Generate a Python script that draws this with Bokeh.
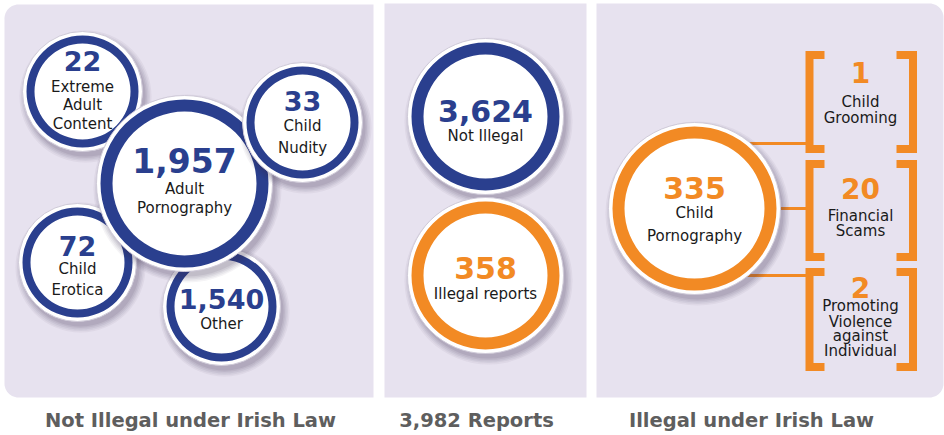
import numpy as np
from bokeh.plotting import figure
from bokeh.models import Range1d
from bokeh.core.properties import value
from bokeh.embed import file_html
from bokeh.resources import INLINE

# ---------------- data ----------------
not_illegal_values = [22, 72, 1540, 1957, 33]
not_illegal_labels = [["Extreme", "Adult", "Content"], ["Child", "Erotica"], ["Other"],
                      ["Adult", "Pornography"], ["Child", "Nudity"]]
summary_values = [3624, 358]
summary_labels = [["Not Illegal"], ["Illegal reports"]]
main_illegal_value = 335
main_illegal_label = ["Child", "Pornography"]
sub_illegal_values = [1, 20, 2]
sub_illegal_labels = [["Child", "Grooming"], ["Financial", "Scams"],
                      ["Promoting", "Violence", "against", "Individual"]]
panel_titles = ["Not Illegal under Irish Law", "3,982 Reports", "Illegal under Irish Law"]

# ---------------- layout (reference pixel coordinates) ----------------
BLUE = "#2A3F8E"
ORANGE = "#F28A24"
PANEL = "#E7E2EF"
TEXT = "#1A1A1A"
FONT = "DejaVu Sans"

left_layout = [
    # cx, cy, R, ring, num_y, num_size, label_ys
    (82, 91, 60, 8, 60, 27, [86, 104, 123]),
    (77, 262, 59, 8, 245, 27, [268, 289]),
    (221, 306, 59, 8, 298, 27, [323]),
    (184, 183, 88, 12, 160, 33, [188, 207]),
    (302, 122, 60, 8, 100, 27, [125, 147]),
]
mid_layout = [
    (485, 116, 78, 12, 110, 30, [135]),
    (485, 275, 78, 12, 267, 30, [293]),
]
main_layout = (694, 208, 86, 12, 187, 30, [212, 235])
box_layout = [
    (51, 152, 143, 72, 28, [101, 117]),
    (160, 260, 208, 188, 28, [215, 230]),
    (268, 370, 275, 287, 28, [305, 321, 335, 350]),
]

p = figure(width=944, height=435, x_range=Range1d(0, 944), y_range=Range1d(435, 0),
           output_backend="svg", toolbar_location=None, min_border=0,
           x_axis_location=None, y_axis_location=None)
p.grid.visible = False
p.outline_line_color = None
p.background_fill_color = "white"
p.border_fill_color = "white"


def rounded_rect(x0, y0, x1, y1, r_tl, r_tr, r_br, r_bl, n=14):
    xs, ys = [], []
    for (cx, cy, r, a0) in [(x0 + r_tl, y0 + r_tl, r_tl, 180), (x1 - r_tr, y0 + r_tr, r_tr, 270),
                            (x1 - r_br, y1 - r_br, r_br, 0), (x0 + r_bl, y1 - r_bl, r_bl, 90)]:
        t = np.radians(np.linspace(a0, a0 + 90, n))
        xs.extend(cx + r * np.cos(t))
        ys.extend(cy + r * np.sin(t))
    return xs, ys


panels = [rounded_rect(4, 4, 373, 397, 14, 0, 0, 14),
          rounded_rect(384, 3, 586, 397, 0, 0, 0, 0),
          rounded_rect(596, 3, 943, 397, 0, 14, 14, 0)]
p.patches([q[0] for q in panels], [q[1] for q in panels], fill_color=PANEL, line_color=None)


def txt(x, y, s, size, color, bold=False):
    p.text(x=[x], y=[y], text=[s], text_font=value(FONT), text_font_size=f"{size}px",
           text_font_style="bold" if bold else "normal", text_color=color,
           text_align="center", text_baseline="middle")


def badge(lay, color, val, lines):
    cx, cy, R, ring, ny, nsize, lys = lay
    for k, a in zip([6, 4.5, 3, 1.5, 0], [0.05, 0.06, 0.07, 0.08, 0.09]):
        p.circle(x=[cx + 3], y=[cy + 5], radius=R + k, fill_color="#3B3150",
                 fill_alpha=a, line_color=None)
    p.circle(x=[cx], y=[cy], radius=R, fill_color="white", line_color="#CFCAD8", line_width=1)
    p.annulus(x=[cx], y=[cy], inner_radius=R - 4 - ring, outer_radius=R - 4,
              fill_color=color, line_color=None)
    txt(cx, ny, f"{val:,}", nsize, color, bold=True)
    for s, ly in zip(lines, lys):
        txt(cx, ly, s, 15, TEXT)


# left panel
for lay, v, lab in zip(left_layout, not_illegal_values, not_illegal_labels):
    badge(lay, BLUE, v, lab)

# middle panel
for lay, v, lab, col in zip(mid_layout, summary_values, summary_labels, [BLUE, ORANGE]):
    badge(lay, col, v, lab)

# right panel connectors
for (y0, y1, yc, ny, ns, lys) in box_layout:
    p.line(x=[main_layout[0], 806], y=[yc, yc], line_color=ORANGE, line_width=3)
badge(main_layout, ORANGE, main_illegal_value, main_illegal_label)

# brackets
bxs, bys = [], []
for (y0, y1, yc, ny, ns, lys) in box_layout:
    bxs.append([824, 809, 809, 824]); bys.append([y0 + 3.5, y0 + 3.5, y1 - 3.5, y1 - 3.5])
    bxs.append([896, 912.5, 912.5, 896]); bys.append([y0 + 3.5, y0 + 3.5, y1 - 3.5, y1 - 3.5])
p.multi_line(bxs, bys, line_color=ORANGE, line_width=8, line_join="miter", line_cap="butt")

for (y0, y1, yc, ny, ns, lys), v, lab in zip(box_layout, sub_illegal_values, sub_illegal_labels):
    txt(860, ny, f"{v:,}", ns, ORANGE, bold=True)
    for s, ly in zip(lab, lys):
        txt(860, ly, s, 15, TEXT)

# panel titles
for x, s in zip([190, 476, 751], panel_titles):
    txt(x, 420, s, 19.5, "#5E5E5E", bold=True)

open("out.html", "w").write(file_html(p, INLINE))
